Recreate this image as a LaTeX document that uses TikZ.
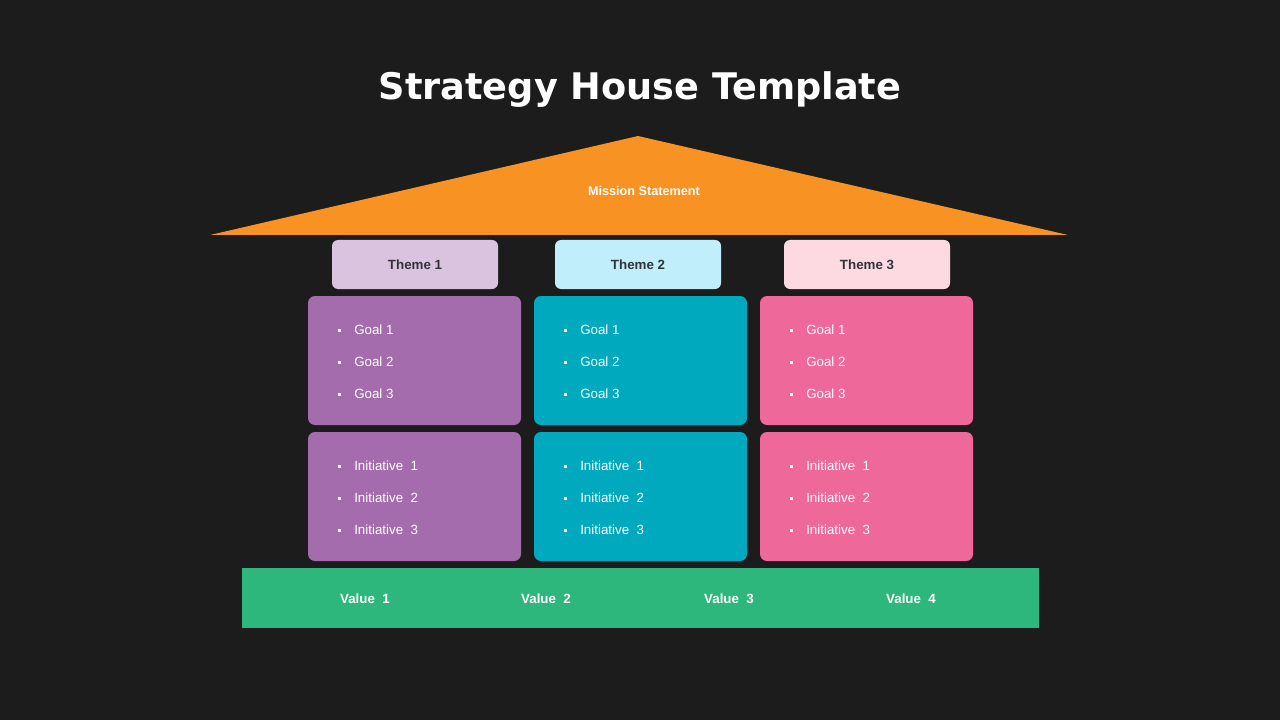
\documentclass[tikz,border=0pt]{standalone}
\usepackage{fontspec}
\setmainfont{Liberation Sans}
\newfontfamily\titlefont{DejaVu Sans}
\usetikzlibrary{positioning}

\definecolor{bgdark}{RGB}{28,28,28}
\definecolor{roof}{RGB}{247,146,35}
\definecolor{lilac}{RGB}{218,195,222}
\definecolor{skyblue}{RGB}{192,238,250}
\definecolor{blush}{RGB}{253,218,225}
\definecolor{plum}{RGB}{164,108,172}
\definecolor{pillarteal}{RGB}{0,169,190}
\definecolor{rose}{RGB}{238,104,153}
\definecolor{leaf}{RGB}{46,183,125}
\definecolor{themetext}{RGB}{51,51,60}

\newlength\px
\setlength\px{0.75pt}

\tikzset{
  themebox/.style={rounded corners=6\px, minimum width=166\px, minimum height=49\px,
    inner sep=0pt, text=themetext, font=\fontsize{10}{12}\selectfont\bfseries},
  pillar/.style={rounded corners=7\px, minimum width=213\px, minimum height=129\px, inner sep=0pt},
  dot/.style={fill=white, inner sep=0pt, minimum size=3\px},
  item/.style={anchor=west, inner sep=0pt, text=white, font=\fontsize{10}{12}\selectfont},
  valuetext/.style={text=white, inner sep=0pt, font=\fontsize{10}{12}\selectfont\bfseries}
}

\begin{document}
\begin{tikzpicture}[x=0.75pt,y=0.75pt,yscale=-1,xscale=1]
%background
\fill[bgdark] (0,0) rectangle (1280,720);

% Title
\node[text=white, inner sep=0pt, anchor=base, font=\titlefont\fontsize{27.5}{32}\selectfont\bfseries] (title) at (640,100) {Strategy House Template};

%Shape: Roof
\fill[roof] (210,235) -- (638,136) -- (1068,235) -- cycle;
\node[text=white, font=\fontsize{9.5}{11}\selectfont\bfseries] (mission) at (644,191) {Mission Statement};

%Themes, goals and initiatives
\foreach \col/\cx/\tx/\tcol/\pcol in {1/414.5/415/lilac/plum, 2/640.5/638/skyblue/pillarteal, 3/866.5/867/blush/rose} {
  \node[themebox, fill=\tcol] (theme\col) at (\tx,264.5) {Theme \col};
  \node[pillar, fill=\pcol] (goals\col) at (\cx,360.5) {};
  \node[pillar, fill=\pcol] (inits\col) at (\cx,496.5) {};
  \foreach \row in {1,2,3} {
    \node[dot] (gdot\col\row) at ({\cx-75.5},{298+32*\row}) {};
    \node[item] (goal\col\row) at ({\cx-60.5},{298+32*\row}) {Goal \row};
    \node[dot] (idot\col\row) at ({\cx-75.5},{434+32*\row}) {};
    \node[item] (init\col\row) at ({\cx-60.5},{434+32*\row}) {Initiative\ \ \row};
  }
}

%Shape: Values base
\node[fill=leaf, minimum width=797\px, minimum height=60\px, inner sep=0pt] (values) at (640.5,598) {};
\foreach \v/\vx in {1/365, 2/546, 3/729, 4/911}
  \node[valuetext] (value\v) at (\vx,599) {Value\ \ \v};

\end{tikzpicture}
\end{document}
